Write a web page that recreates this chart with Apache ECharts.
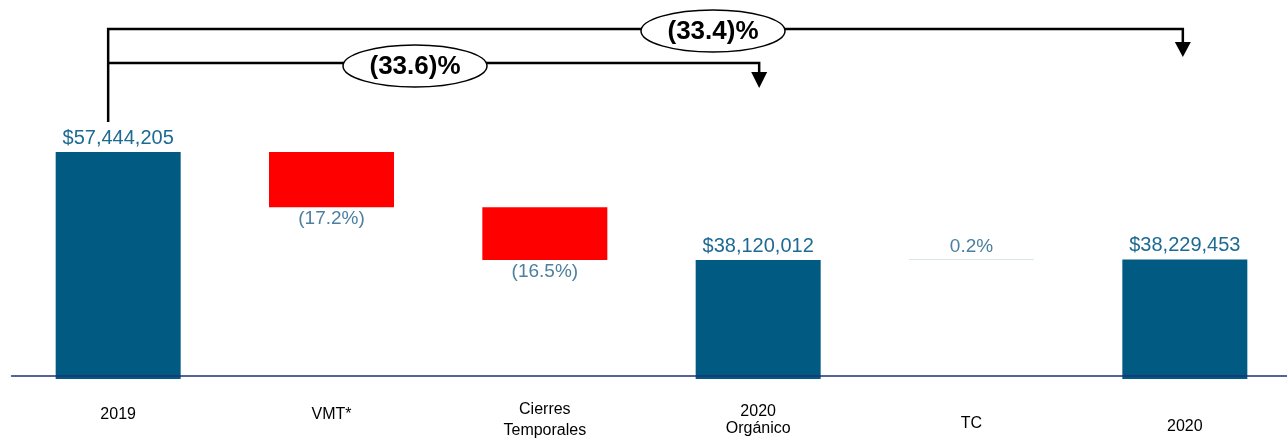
<!DOCTYPE html>
<html>
<head>
<meta charset="utf-8">
<script src="https://cdn.jsdelivr.net/npm/echarts@6/dist/echarts.min.js"></script>
<style>
html,body{margin:0;padding:0;background:#fff;overflow:hidden;width:1287px;height:439px;}
#c{width:1294px;height:439px;}
</style>
</head>
<body>
<div id="c"></div>
<script>
// ---- data ----
const categories = ['2019', 'VMT*', 'Cierres\nTemporales', '2020\nOrgánico', 'TC', '2020'];
const totals  = [57444205, null, null, 38120012, null, 38229453];
const changes = [null, -9880403, -9443790, null, 109441, null];
const changeLabels = [null, '(17.2%)', '(16.5%)', null, '0.2%', null];
const bracketLabels = ['(33.6)%', '(33.4)%'];
const bracketFrom = [0, 0];
const bracketTo = [3, 5];

// ---- build waterfall ----
const baseData = [], barData = [];
let running = 0;
for (let i = 0; i < categories.length; i++) {
  if (totals[i] != null) {
    running = totals[i];
    baseData.push(0);
    barData.push({ value: totals[i], itemStyle: { color: '#005A82' },
      label: { show: true, position: 'top', distance: 4, color: '#1D6A92', fontSize: 20,
        formatter: '$' + totals[i].toLocaleString('en-US') } });
  } else {
    const a = running, b = running + changes[i];
    running = b;
    baseData.push(Math.min(a, b));
    const neg = changes[i] < 0;
    barData.push({ value: Math.abs(changes[i]),
      itemStyle: { color: neg ? '#FF0000' : '#D3EBE2' },
      label: { show: true, position: neg ? 'bottom' : 'top', distance: neg ? 2 : 3,
        color: '#4C7FA0', fontSize: 19, formatter: changeLabels[i] } });
  }
}

// axis scale chosen so the bars sit where they do in the reference
const yMin = 16828000, yMax = 77483000;

const chart = echarts.init(document.getElementById('c'));
const F = 'Liberation Sans, Arial';
const labelRich = {
  a: { fontSize: 16, color: '#000', padding: [8, 0, 0, 0], fontFamily: F },
  b: { fontSize: 16, color: '#000', padding: [8, 0, 0, 0], fontFamily: F },
  c: { fontSize: 16, color: '#000', lineHeight: 21, fontFamily: F },
  d1: { fontSize: 16, color: '#000', lineHeight: 20, padding: [5, 0, 0, 0], fontFamily: F },
  d2: { fontSize: 16, color: '#000', lineHeight: 20, fontFamily: F },
  e: { fontSize: 16, color: '#000', padding: [17, 0, 0, 0], fontFamily: F },
  f: { fontSize: 16, color: '#000', padding: [20, 0, 0, 0], fontFamily: F }
};
const styleKeys = [['a'], ['b'], ['c', 'c'], ['d1', 'd2'], ['e'], ['f']];

chart.setOption({
  animation: false,
  textStyle: { fontFamily: 'Liberation Sans, Arial, sans-serif' },
  grid: { left: 11.5, width: 1280, top: 40, bottom: 60, containLabel: false },
  xAxis: {
    type: 'category', data: categories, offset: -3, z: 5,
    axisLine: { lineStyle: { color: '#1E3275', width: 1.5 } },
    axisTick: { show: false },
    axisLabel: {
      interval: 0, margin: 23,
      formatter: (v, i) => v.split('\n').map((s, k) => '{' + styleKeys[i][k] + '|' + s + '}').join('\n'),
      rich: labelRich
    }
  },
  yAxis: { type: 'value', min: yMin, max: yMax, show: false, splitLine: { show: false } },
  series: [
    { type: 'bar', stack: 'w', data: baseData, barWidth: 125, itemStyle: { color: 'transparent' }, silent: true },
    { type: 'bar', stack: 'w', data: barData, barWidth: 125, barMinHeight: 1 }
  ]
});

// ---- bracket annotations ----
const x0 = chart.convertToPixel({ xAxisIndex: 0 }, bracketFrom[0]) - 10;
const xA = chart.convertToPixel({ xAxisIndex: 0 }, bracketTo[0]) + 1;
const xB = chart.convertToPixel({ xAxisIndex: 0 }, bracketTo[1]) - 2;
const lineStyle = { stroke: '#000', lineWidth: 2.5, fill: null };
function arrow(x, yTop, yTip) {
  return { type: 'polygon', shape: { points: [[x - 8, yTop], [x + 8, yTop], [x, yTip]] }, style: { fill: '#000' } };
}
function oval(cx, cy, txt) {
  return [
    { type: 'ellipse', shape: { cx: cx, cy: cy, rx: 72, ry: 21 }, style: { fill: '#fff', stroke: '#000', lineWidth: 1.5 }, z: 10 },
    { type: 'text', x: cx, y: cy + 1, z: 11, style: { text: txt, fill: '#000', font: 'bold 26px "Liberation Sans", Arial', align: 'center', verticalAlign: 'middle' } }
  ];
}
chart.setOption({
  graphic: [
    { type: 'polyline', shape: { points: [[x0, 122], [x0, 29], [xB, 29], [xB, 43]] }, style: lineStyle },
    arrow(xB, 42, 57),
    { type: 'polyline', shape: { points: [[x0, 63], [xA, 63], [xA, 73]] }, style: lineStyle },
    arrow(xA, 72, 88),
    ...oval(713, 31, bracketLabels[1]),
    ...oval(415, 66, bracketLabels[0])
  ]
});
</script>
</body>
</html>
